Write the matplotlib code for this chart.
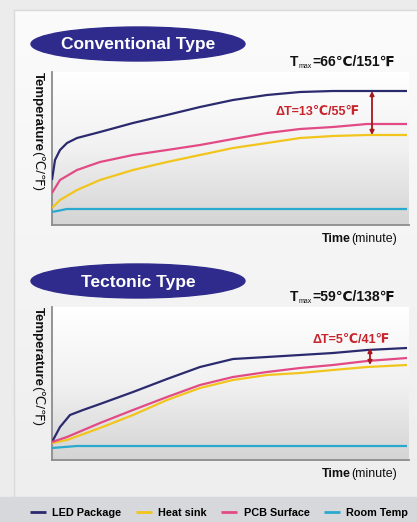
import numpy as np
import matplotlib
matplotlib.use("Agg")
from matplotlib import pyplot as plt
from matplotlib.colors import LinearSegmentedColormap
from matplotlib.patches import Ellipse, Rectangle

plt.rcParams['font.family'] = ['Liberation Sans', 'DejaVu Sans']

# series names and colours
series = ['LED Package', 'Heat sink', 'PCB Surface', 'Room Temp']
colors = ['#2b2a6e', '#f2c51c', '#e24a86', '#2aa9cf']

# conventional type (time / temperature, arbitrary units)
conv_t = [0, 3, 8, 15, 25, 48, 81, 115, 148, 181, 215, 248, 281, 315, 355]
conv_led = [45, 65, 75, 82, 87, 93, 102, 110, 118, 125, 130, 133, 134, 134, 134]
conv_t2 = [0, 8, 25, 48, 81, 115, 148, 181, 215, 248, 281, 315, 355]
conv_pcb = [32, 45, 55, 63, 70, 75, 80, 86, 92, 96, 98, 101, 101]
conv_heat = [17, 25, 35, 45, 55, 63, 70, 77, 82, 87, 89, 90, 90]
conv_room_t = [0, 15, 355]
conv_room = [13, 16, 16]

# tectonic type
tect_t = [0, 8, 18, 31, 48, 81, 115, 148, 181, 215, 248, 281, 315, 355]
tect_led = [18, 33, 45, 50, 56, 68, 81, 93, 101, 103, 105, 107, 110, 112]
tect_t2 = [0, 15, 48, 81, 115, 148, 181, 215, 248, 281, 315, 355]
tect_pcb = [18, 23, 37, 50, 63, 75, 83, 88, 92, 95, 99, 102]
tect_heat = [17, 20, 32, 45, 60, 72, 80, 85, 87, 90, 93, 95]
tect_room_t = [0, 25, 355]
tect_room = [12, 14, 14]

panels = [
    dict(title='Conventional Type', tmax='=66℃/151℉', dt='ΔT=13℃/55℉',
         led=(conv_t, conv_led), heat=(conv_t2, conv_heat), pcb=(conv_t2, conv_pcb),
         room=(conv_room_t, conv_room), arrow_x=320, dt_xy=(266, 113)),
    dict(title='Tectonic Type', tmax='=59℃/138℉', dt='ΔT=5℃/41℉',
         led=(tect_t, tect_led), heat=(tect_t2, tect_heat), pcb=(tect_t2, tect_pcb),
         room=(tect_room_t, tect_room), arrow_x=318, dt_xy=(299, 120)),
]

W, H = 417, 522
fig = plt.figure(figsize=(W / 100, H / 100), dpi=100)

# background in pixel coordinates
bg = fig.add_axes([0, 0, 1, 1])
bg.set_xlim(0, W)
bg.set_ylim(H, 0)
bg.axis('off')
bg.add_patch(Rectangle((0, 0), W, H, color='#ececec', zorder=0))
card = LinearSegmentedColormap.from_list('card', ['#fbfbfb', '#eeeeee'])
bg.imshow(np.linspace(0, 1, 100).reshape(-1, 1), cmap=card, extent=[14, W, 497, 10],
          aspect='auto', zorder=1)
bg.plot([14, 14, W], [497, 10, 10], color='#d9d9d9', lw=1, zorder=2)
bg.add_patch(Rectangle((0, 497), W, 25, color='#d6d8db', zorder=2))

plot_cmap = LinearSegmentedColormap.from_list('plot', ['#ffffff', '#f1f1f1', '#d4d4d4'])

tops = [72, 307]
ell_y = [44, 281]
lines = []
for p, top, ey in zip(panels, tops, ell_y):
    ax = fig.add_axes([52 / W, 1 - (top + 153) / H, 357 / W, 153 / H])
    ax.imshow(np.linspace(0, 1, 100).reshape(-1, 1), cmap=plot_cmap,
              extent=[0, 357, 0, 153], aspect='auto', zorder=0)
    lines = []
    for key, name, c in zip(['led', 'heat', 'pcb', 'room'], series, colors):
        t, v = p[key]
        ln, = ax.plot(t, v, color=c, lw=1.6, label=name, zorder=3,
                      solid_capstyle='butt')
        lines.append(ln)
    ax.set_xlim(0, 357)
    ax.set_ylim(0, 153)
    ax.set_xticks([])
    ax.set_yticks([])
    for s in ['top', 'right']:
        ax.spines[s].set_visible(False)
    for s in ['left', 'bottom']:
        ax.spines[s].set_color('#8c8c8c')
        ax.spines[s].set_linewidth(1.3)

    led_end = p['led'][1][-1]
    heat_end = p['heat'][1][-1]
    ax.annotate('', xy=(p['arrow_x'], heat_end), xytext=(p['arrow_x'], led_end),
                arrowprops=dict(arrowstyle='<|-|>', color='#a8151d', lw=1.3,
                                mutation_scale=6, shrinkA=0, shrinkB=0), zorder=4)
    ax.text(*p['dt_xy'], p['dt'], fontsize=9, fontweight='bold', ha='center',
            va='center', color='#c8242c', zorder=4)

    # title ellipse
    bg.add_patch(Ellipse((138, ey), 214, 34, color='#2f2b8c', zorder=3))
    bg.text(138, ey + 1, p['title'], color='white', fontsize=12.5, fontweight='bold',
            ha='center', va='center', zorder=4)

    # T max label
    tm = bg.text(290, top - 10, 'T', fontsize=10, fontweight='bold', ha='left',
                 va='center', color='#111111', zorder=4)
    sub = bg.annotate('max', xy=(1, 0.2), xycoords=tm, fontsize=5, ha='left',
                      va='center', color='#111111', zorder=4)
    bg.annotate(p['tmax'], xy=(1, 0.5), xycoords=tm, xytext=(sub.get_window_extent(
        fig.canvas.get_renderer()).width + 0.5, 0), textcoords='offset pixels',
        fontsize=10, fontweight='bold', ha='left', va='center', color='#111111',
        zorder=4)

    # axis labels
    tt = bg.text(351, top + 167, 'Time', fontsize=9, fontweight='bold', ha='right',
                 va='center', color='#111111', zorder=4)
    bg.annotate('(minute)', xy=(1, 0.5), xycoords=tt, fontsize=9, ha='left',
                va='center', color='#111111', zorder=4)
    yl = bg.text(38, top, 'Temperature', fontsize=9.5, fontweight='bold', rotation=-90,
                 ha='center', va='top', color='#111111', zorder=4)
    bg.annotate('(℃/℉)', xy=(0.5, 0), xycoords=yl, fontsize=9.5, rotation=-90,
                ha='center', va='top', color='#111111', zorder=4)

fig.legend(lines, series, loc='center', bbox_to_anchor=(0.525, 1 - 513 / H), ncol=4,
           frameon=False, handlelength=1.5, columnspacing=1.3,
           handletextpad=0.6, prop={'weight': 'bold', 'size': 7.8})
for ln in fig.legends[0].get_lines():
    ln.set_linewidth(2)

fig.savefig('out.png', dpi=100)
